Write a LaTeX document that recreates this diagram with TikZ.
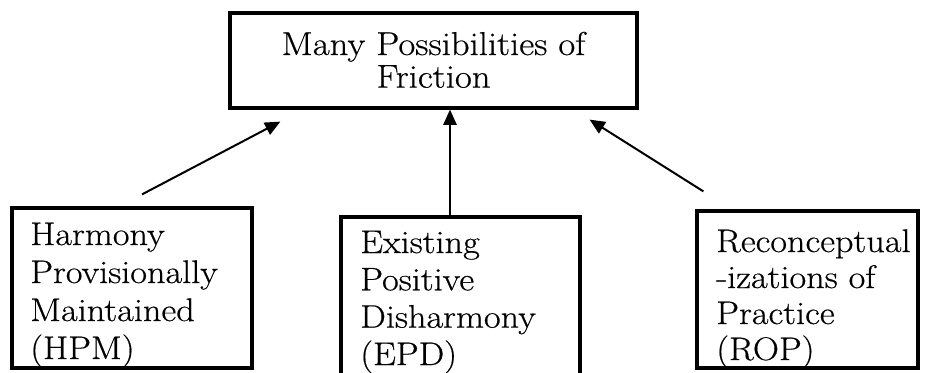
\documentclass[tikz,border=0pt]{standalone}
\usepackage{fontspec}
\setmainfont{Latin Modern Roman}[FakeStretch=1.11, FakeBold=0.5]
\usetikzlibrary{arrows.meta,fit,shadows}
\begin{document}
\begin{tikzpicture}[x=0.75pt,y=-0.75pt,
  boxst/.style={draw=black, line width=2.4pt, fill=white, inner sep=0pt,
    drop shadow={shadow xshift=1.2pt, shadow yshift=-1.5pt, opacity=0.25, fill=black}},
  lbl/.style={inner sep=0pt, anchor=base west},
  arr/.style={draw=black, line width=1.5pt, -{Triangle[length=11.5pt,width=10pt]}}]
\useasboundingbox (0,0) rectangle (926,372);
% boxes
\node[boxst, fit={(230,13) (637,108)}] (top) {};
\node[boxst, fit={(12,208) (252,368)}] (b1) {};
\node[boxst, fit={(341,217) (580,385)}] (b2) {};
\node[boxst, fit={(697,211) (918,368)}] (b3) {};
% texts
\node[inner sep=0pt, anchor=base] (ttop) at (433.5,55)
  {\parbox[t]{300pt}{\centering\fontsize{24.8}{24.5}\selectfont Many Possibilities of\\Friction}};
\node[lbl] (t1) at (30,245)
  {\parbox[t]{180pt}{\fontsize{24.5}{28.5}\selectfont Harmony\\Provisionally\\Maintained\\(HPM)}};
\node[lbl] (t2) at (360,253)
  {\parbox[t]{180pt}{\fontsize{24.5}{28}\selectfont Existing\\Positive\\Disharmony\\(EPD)}};
\node[lbl] (t3) at (716,252)
  {\parbox[t]{180pt}{\fontsize{24.5}{27}\selectfont Reconceptual\\-izations of\\Practice\\(ROP)}};
% arrows
\draw[arr] ([shift={(10,-12)}]b1.north) -- ([shift={(52,12)}]top.south west);
\draw[arr] ([shift={(-10.5,0)}]b2.north) -- ([shift={(16.5,0)}]top.south);
\draw[arr] ([shift={(8,-18)}]b3.north west) -- ([shift={(-49,10)}]top.south east);
\end{tikzpicture}
\end{document}
